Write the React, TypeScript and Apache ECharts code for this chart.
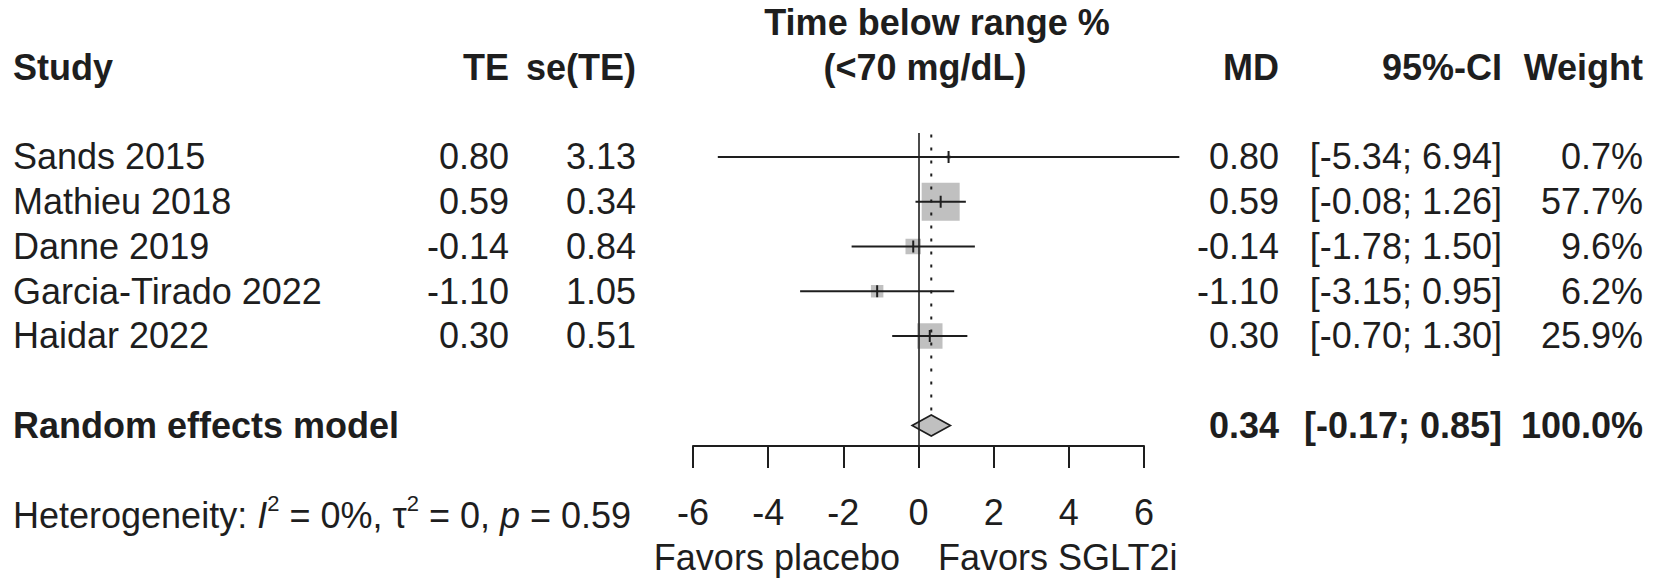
import React, { useEffect, useRef } from "react";
import * as echarts from "echarts";

// ---- data ----
const studies = ["Sands 2015", "Mathieu 2018", "Danne 2019", "Garcia-Tirado 2022", "Haidar 2022"];
const te = [0.8, 0.59, -0.14, -1.1, 0.3];
const seTE = [3.13, 0.34, 0.84, 1.05, 0.51];
const ciLower = [-5.34, -0.08, -1.78, -3.15, -0.7];
const ciUpper = [6.94, 1.26, 1.5, 0.95, 1.3];
const weights = [0.7, 57.7, 9.6, 6.2, 25.9];
const pooledLabel = "Random effects model";
const pooledMD = 0.34;
const pooledLower = -0.17;
const pooledUpper = 0.85;
const pooledWeight = 100.0;
const xMin = -6;
const xMax = 6;
const xInterval = 2;
const titleLines = ["Time below range %", "(<70 mg/dL)"];
const favorsLeft = "Favors placebo";
const favorsRight = "Favors SGLT2i";

// ---- layout (rows are y-axis values) ----
const ROW_TITLE1 = -3;
const ROW_HEADER = -2;
const ROW_POOLED = 6;
const ROW_HET = 8;
const ROW_FAVORS = 8.95;
const FONT = "'Liberation Sans', Arial, Helvetica, sans-serif";
const FS = 36;
const INK = "#1e1e1e";
const MAX_SQUARE = 38;

const COL = {
  study: 13,
  te: 509,
  se: 636,
  md: 1279,
  ci: 1502,
  weight: 1643,
  title1: 937,
  title2: 925,
  favL: 900,
  favR: 938,
};

const fmt2 = (v: number) => v.toFixed(2);
const fmtCI = (l: number, u: number) => `[${l.toFixed(2)}; ${u.toFixed(2)}]`;
const fmtW = (w: number) => `${w.toFixed(1)}%`;

type Cell = { row: number; text: string; x: number; align: string; bold?: boolean; rich?: any };

function textSeries(name: string, cells: Cell[]) {
  return {
    type: "custom",
    name,
    silent: true,
    clip: false,
    z: 5,
    data: cells.map((c) => [0, c.row]),
    renderItem: (params: any, api: any) => {
      const c = cells[params.dataIndex];
      const y = api.coord([0, api.value(1)])[1];
      const style: any = {
        text: c.text,
        fontSize: FS,
        fontFamily: FONT,
        fontWeight: c.bold ? "bold" : "normal",
        fill: INK,
        align: c.align,
        verticalAlign: "middle",
      };
      if (c.rich) {
        style.rich = c.rich;
        style.lineHeight = 46;
      }
      return { type: "text", x: c.x, y, style };
    },
  };
}

export default function App() {
  const ref = useRef<HTMLDivElement>(null);

  useEffect(() => {
    if (!ref.current) return;
    const chart = echarts.init(ref.current, null, { renderer: "svg" });
    const maxW = Math.max(...weights);

    const cells: Cell[] = [];
    // headers
    cells.push({ row: ROW_HEADER, text: "Study", x: COL.study, align: "left", bold: true });
    cells.push({ row: ROW_HEADER, text: "TE", x: COL.te, align: "right", bold: true });
    cells.push({ row: ROW_HEADER, text: "se(TE)", x: COL.se, align: "right", bold: true });
    cells.push({ row: ROW_TITLE1, text: titleLines[0], x: COL.title1, align: "center", bold: true });
    cells.push({ row: ROW_HEADER, text: titleLines[1], x: COL.title2, align: "center", bold: true });
    cells.push({ row: ROW_HEADER, text: "MD", x: COL.md, align: "right", bold: true });
    cells.push({ row: ROW_HEADER, text: "95%-CI", x: COL.ci, align: "right", bold: true });
    cells.push({ row: ROW_HEADER, text: "Weight", x: COL.weight, align: "right", bold: true });
    // study rows
    studies.forEach((s, i) => {
      cells.push({ row: i, text: s, x: COL.study, align: "left" });
      cells.push({ row: i, text: fmt2(te[i]), x: COL.te, align: "right" });
      cells.push({ row: i, text: fmt2(seTE[i]), x: COL.se, align: "right" });
      cells.push({ row: i, text: fmt2(te[i]), x: COL.md, align: "right" });
      cells.push({ row: i, text: fmtCI(ciLower[i], ciUpper[i]), x: COL.ci, align: "right" });
      cells.push({ row: i, text: fmtW(weights[i]), x: COL.weight, align: "right" });
    });
    // pooled row
    cells.push({ row: ROW_POOLED, text: pooledLabel, x: COL.study, align: "left", bold: true });
    cells.push({ row: ROW_POOLED, text: fmt2(pooledMD), x: COL.md, align: "right", bold: true });
    cells.push({ row: ROW_POOLED, text: fmtCI(pooledLower, pooledUpper), x: COL.ci, align: "right", bold: true });
    cells.push({ row: ROW_POOLED, text: fmtW(pooledWeight), x: COL.weight, align: "right", bold: true });
    // heterogeneity
    cells.push({
      row: ROW_HET,
      text: "Heterogeneity: {i|I}{s|2} = 0%, \u03c4{s|2} = 0, {i|p} = 0.59",
      x: COL.study,
      align: "left",
      rich: {
        i: { fontStyle: "italic", fontSize: FS, fontFamily: FONT, fill: INK, lineHeight: 46 },
        s: { fontSize: 22, fontFamily: FONT, fill: INK, verticalAlign: "top", lineHeight: 24 },
      },
    });
    // favours labels
    cells.push({ row: ROW_FAVORS, text: favorsLeft, x: COL.favL, align: "right" });
    cells.push({ row: ROW_FAVORS, text: favorsRight, x: COL.favR, align: "left" });

    const option: any = {
      animation: false,
      backgroundColor: "#ffffff",
      grid: { left: 693, right: 514, top: 133, bottom: 132, containLabel: false },
      xAxis: {
        type: "value",
        min: xMin,
        max: xMax,
        interval: xInterval,
        position: "bottom",
        splitLine: { show: false },
        axisLine: { show: true, onZero: false, lineStyle: { color: INK, width: 2 } },
        axisTick: { show: true, length: 22, lineStyle: { color: INK, width: 2 } },
        axisLabel: { fontSize: FS, fontFamily: FONT, color: INK, margin: 48 },
      },
      yAxis: {
        type: "value",
        min: -0.536,
        max: 6.458,
        inverse: true,
        show: false,
        splitLine: { show: false },
      },
      series: [
        {
          type: "custom",
          name: "studies",
          clip: false,
          z: 3,
          data: studies.map((_, i) => [te[i], i, ciLower[i], ciUpper[i], weights[i]]),
          renderItem: (params: any, api: any) => {
            const row = api.value(1);
            const [cx, cy] = api.coord([api.value(0), row]);
            const lo = api.coord([api.value(2), row])[0];
            const hi = api.coord([api.value(3), row])[0];
            const size = MAX_SQUARE * Math.sqrt(api.value(4) / maxW);
            return {
              type: "group",
              children: [
                {
                  type: "rect",
                  shape: { x: cx - size / 2, y: cy - size / 2, width: size, height: size },
                  style: { fill: "#c0c0c0" },
                },
                {
                  type: "line",
                  shape: { x1: lo, y1: cy, x2: hi, y2: cy },
                  style: { stroke: INK, lineWidth: 2 },
                },
                {
                  type: "line",
                  shape: { x1: cx, y1: cy - 6, x2: cx, y2: cy + 6 },
                  style: { stroke: INK, lineWidth: 2 },
                },
              ],
            };
          },
          markLine: {
            silent: true,
            symbol: "none",
            label: { show: false },
            lineStyle: { color: INK, width: 1.6, type: "solid" },
            data: [{ xAxis: 0 }],
          },
        },
        {
          type: "custom",
          name: "pooled",
          clip: false,
          z: 4,
          data: [[pooledMD, ROW_POOLED, pooledLower, pooledUpper]],
          renderItem: (params: any, api: any) => {
            const row = api.value(1);
            const [cx, cy] = api.coord([api.value(0), row]);
            const lo = api.coord([api.value(2), row])[0];
            const hi = api.coord([api.value(3), row])[0];
            const top = api.coord([api.value(0), -0.5])[1];
            const h = 10.5;
            return {
              type: "group",
              children: [
                {
                  type: "line",
                  shape: { x1: cx, y1: top, x2: cx, y2: cy - h },
                  style: { stroke: INK, lineWidth: 2, lineDash: [3, 10] },
                },
                {
                  type: "polygon",
                  shape: { points: [[lo, cy], [cx, cy - h], [hi, cy], [cx, cy + h]] },
                  style: { fill: "#c0c0c0", stroke: INK, lineWidth: 1.6 },
                },
              ],
            };
          },
        },
        textSeries("table", cells),
      ],
    };

    chart.setOption(option);
    return () => chart.dispose();
  }, []);

  return (
    <div
      ref={ref}
      style={{ position: "absolute", left: 0, top: 0, width: 1658, height: 578, background: "#fff" }}
    />
  );
}
